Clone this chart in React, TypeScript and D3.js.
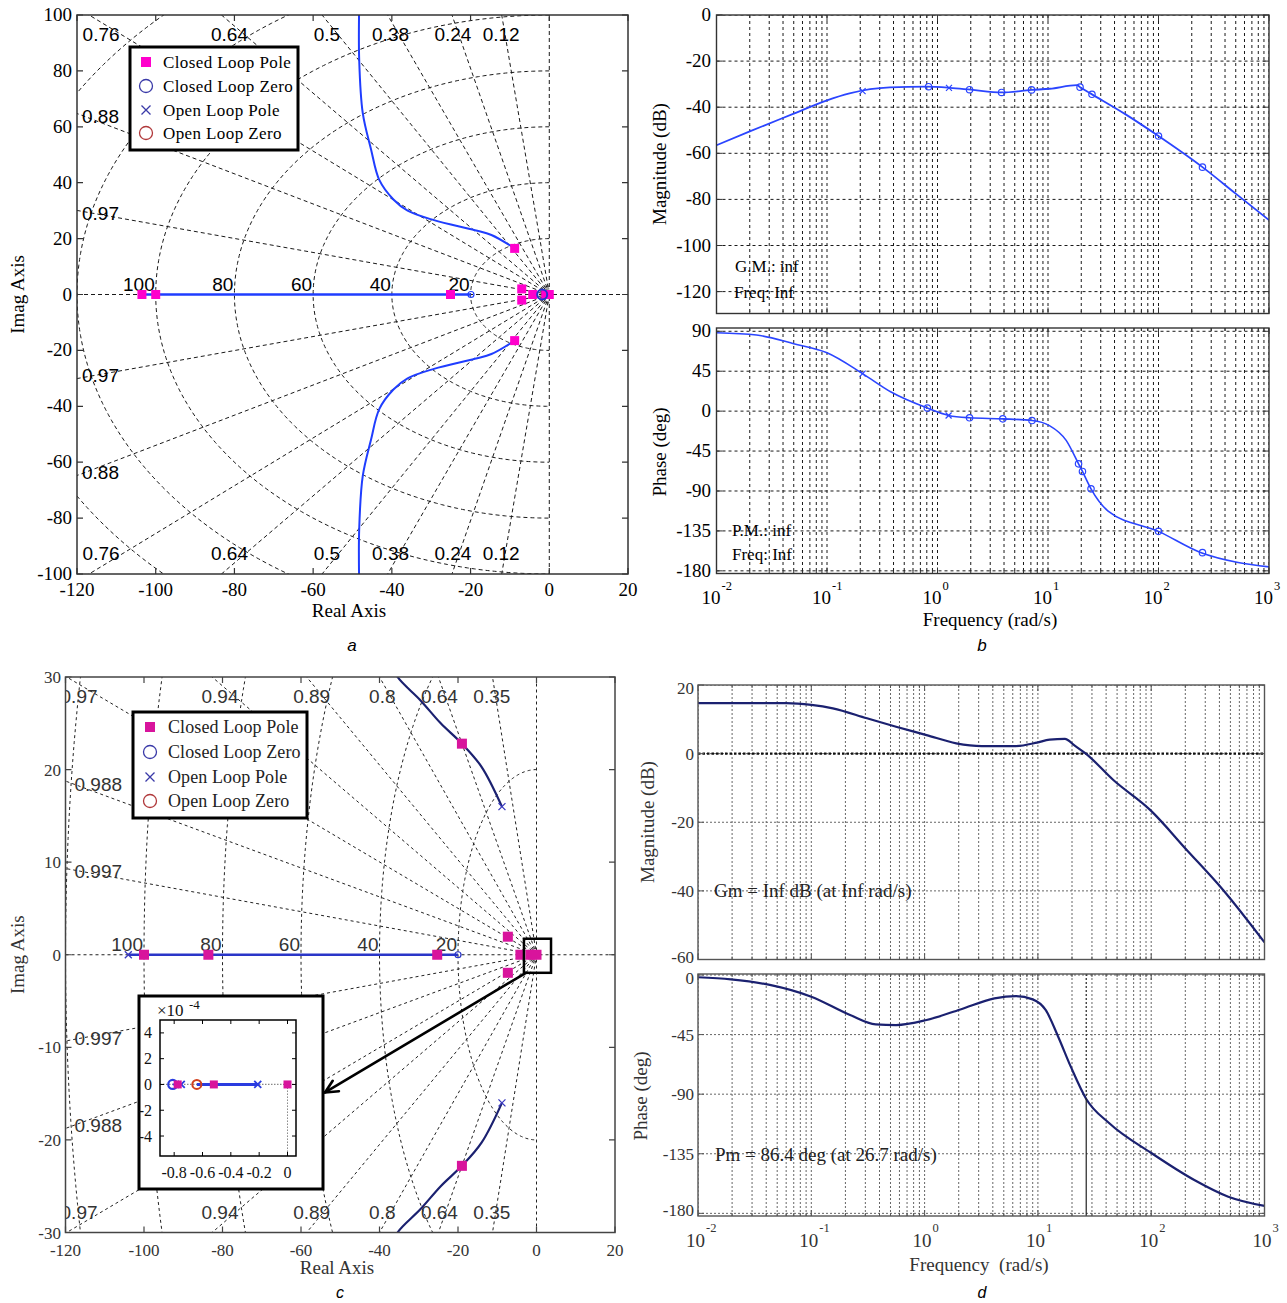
import React from 'react';
import * as d3 from 'd3';

type Pt = [number, number];

const SERIF = '"Liberation Serif","Times New Roman",Times,serif';
const SANS = '"Liberation Sans",Arial,Helvetica,sans-serif';

/* ---------------- (a) root locus ---------------- */
const aXTicks = [-120, -100, -80, -60, -40, -20, 0, 20];
const aYTicks = [-100, -80, -60, -40, -20, 0, 20, 40, 60, 80, 100];
const aZetas = [0.12, 0.24, 0.38, 0.5, 0.64, 0.76, 0.88, 0.97];
const aWn = [1, 2, 3, 20, 40, 60, 80, 100, 120, 140];
const aWnLabels = [100, 80, 60, 40, 20];
const aLocusUpper: Pt[] = [[-48.3, 104], [-48.3, 84], [-47.4, 65], [-45.3, 52], [-43.2, 41], [-39.6, 34], [-36, 30], [-29.3, 26.6], [-18.9, 23], [-14.7, 21.3], [-8.8, 16.5]];
const aLocusLower: Pt[] = [[-48.3, -104], [-48.3, -84], [-47.4, -65], [-45.3, -52], [-43.2, -41], [-39.6, -34], [-36, -30], [-29.3, -26.6], [-18.9, -23], [-14.7, -21.3], [-8.8, -16.5]];
const aRealLocus: Pt[] = [[-103.5, 0], [-19.9, 0]];
const aClosedPoles: Pt[] = [[-103.5, 0], [-100, 0], [-25.1, 0], [-8.8, 16.5], [-8.8, -16.5], [-7, 2], [-7, -2], [-4.2, 0], [-0.9, 0], [0, 0]];
const aClosedZerosSmall: Pt[] = [[-19.9, 0]];
const aClosedZerosBig: Pt[] = [[-1.8, 0]];

/* ---------------- (b) Bode ---------------- */
const bMagTicks = [-120, -100, -80, -60, -40, -20, 0];
const bPhaseTicks = [-180, -135, -90, -45, 0, 45, 90];
const bMag: Pt[] = [[0.01, -56.5], [0.02, -50.5], [0.05, -42.8], [0.1, -37], [0.16, -34], [0.37, -31.4], [0.8, -31.1], [1.3, -31.6], [2, -32.4], [3.8, -33.6], [7.1, -32.5], [10.4, -32], [18.2, -30.4], [19.5, -31.3], [24.2, -34], [50, -43], [100, -52.5], [250, -66], [500, -77.5], [1000, -89]];
const bPhase: Pt[] = [[0.01, 88.4], [0.023, 85.8], [0.05, 76], [0.1, 65.8], [0.21, 42.3], [0.38, 21.5], [0.81, 3.4], [1.26, -4.9], [1.95, -7.5], [3.9, -8.7], [7.16, -10.6], [10.3, -16.3], [14.6, -33], [18.9, -59.4], [20.5, -68], [24.5, -87.6], [35, -112.6], [100, -135.5], [240, -159.3], [525, -170.6], [1000, -175.5]];
const bMagCircles: Pt[] = [[0.83, -31.1], [1.95, -32.4], [3.8, -33.6], [7.1, -32.5], [19.5, -31.3], [25, -34.4], [100, -52.5], [250, -66]];
const bMagCrosses: Pt[] = [[0.21, -33], [1.27, -31.6]];
const bPhaseCircles: Pt[] = [[0.81, 3.4], [1.95, -7.5], [3.9, -8.7], [7.16, -10.6], [18.9, -59.4], [20.5, -68], [24.5, -87.6], [100, -135.5], [250, -159.5]];
const bPhaseCrosses: Pt[] = [[0.21, 42.3], [1.26, -4.9]];

/* ---------------- (c) root locus ---------------- */
const cXTicks = [-120, -100, -80, -60, -40, -20, 0, 20];
const cYTicks = [-30, -20, -10, 0, 10, 20, 30];
const cZetas = [0.35, 0.64, 0.8, 0.89, 0.94, 0.97, 0.988, 0.997];
const cWn = [20, 40, 60, 80, 100, 120];
const cWnLabels = [100, 80, 60, 40, 20];
const cLocusUpper: Pt[] = [[-37, 31.5], [-35.4, 30], [-29.6, 27.5], [-24.4, 25], [-19, 22.8], [-14, 20.3], [-8.8, 16]];
const cLocusLower: Pt[] = [[-37, -31.5], [-35.4, -30], [-29.6, -27.5], [-24.4, -25], [-19, -22.8], [-14, -20.3], [-8.8, -16]];
const cRealLocus: Pt[] = [[-104, 0], [-20, 0]];
const cClosedPoles: Pt[] = [[-100, 0], [-83.6, 0], [-25.3, 0], [-19, 22.8], [-19, -22.8], [-7.3, 1.95], [-7.3, -1.95], [-4.1, 0], [-1.5, 0], [0, 0]];
const cClosedZeros: Pt[] = [[-20, 0]];
const cOpenPoles: Pt[] = [[-104, 0], [-8.8, 16], [-8.8, -16]];
const cZoomBox: Pt[] = [[-3.2, -1.95], [3.7, 1.73]];

/* inset of (c) */
const iXTicks = [-0.8, -0.6, -0.4, -0.2, 0];
const iYTicks = [-4, -2, 0, 2, 4];
const iLocus: Pt[] = [[-0.64, 0], [-0.21, 0]];
const iClosedPoles: Pt[] = [[-0.775, 0], [-0.52, 0], [0, 0]];
const iClosedZeros: Pt[] = [[-0.81, 0]];
const iOpenPoles: Pt[] = [[-0.75, 0], [-0.21, 0]];
const iOpenZeros: Pt[] = [[-0.64, 0]];

/* ---------------- (d) Bode ---------------- */
const dMagTicks = [-60, -40, -20, 0, 20];
const dPhaseTicks = [-180, -135, -90, -45, 0];
const dMag: Pt[] = [[0.01, 14.7], [0.06, 14.7], [0.1, 14.2], [0.155, 13.2], [0.31, 10.3], [0.56, 7.85], [1.04, 5.4], [1.9, 3], [3.2, 2.2], [6.4, 2.2], [9.8, 3.2], [12.7, 4.1], [17.3, 4.3], [21, 2.4], [26.5, 0], [46.3, -7.7], [97.8, -16.4], [205, -28], [433, -39.8], [1000, -55]];
const dPhase: Pt[] = [[0.01, -1.7], [0.0195, -3.3], [0.043, -7.5], [0.1, -16.4], [0.22, -30.2], [0.37, -37.3], [0.56, -37.8], [1.04, -34], [2.07, -26], [4.14, -17.6], [6.4, -15.9], [9, -18.4], [11.7, -26.4], [15.1, -46.6], [19.5, -69.2], [26.7, -93.6], [42.7, -112], [101, -134.6], [240, -154.8], [479, -167.4], [1000, -174.4]];
const dPm: Pt = [26.7, -93.6];

const decades = [0.01, 0.1, 1, 10, 100, 1000];
const decadeExp = ['-2', '-1', '0', '1', '2', '3'];
const legendLabels = ['Closed Loop Pole', 'Closed Loop Zero', 'Open Loop Pole', 'Open Loop Zero'];

const logGrid = d3.range(-2, 3).flatMap(e => d3.range(1, 10).map(m => m * Math.pow(10, e))).concat([1000]);

type Lin = d3.ScaleLinear<number, number>;

function sq(k: string, x: number, y: number, s: number, fill: string) {
  return <rect key={k} x={x - s / 2} y={y - s / 2} width={s} height={s} fill={fill} />;
}
function ring(k: string, x: number, y: number, r: number, stroke: string, sw: number) {
  return <circle key={k} cx={x} cy={y} r={r} fill="none" stroke={stroke} strokeWidth={sw} />;
}
function cross(k: string, x: number, y: number, s: number, stroke: string, sw: number) {
  return <path key={k} d={`M${x - s},${y - s}L${x + s},${y + s}M${x - s},${y + s}L${x + s},${y - s}`} stroke={stroke} strokeWidth={sw} fill="none" />;
}

function sgrid(x: Lin, y: Lin, zetas: number[], wns: number[], stroke: string, dash: string, sw: number) {
  const R = 3000;
  const rays = zetas.flatMap(z => {
    const th = Math.acos(z);
    return [1, -1].map(s => `M${x(0)},${y(0)}L${x(-R * Math.cos(th))},${y(s * R * Math.sin(th))}`);
  });
  const arcs = wns.map(w =>
    d3.line()(d3.range(90, 271, 1).map(deg => {
      const r = (deg * Math.PI) / 180;
      return [x(w * Math.cos(r)), y(w * Math.sin(r))] as [number, number];
    }))
  );
  return (
    <g fill="none" stroke={stroke} strokeWidth={sw} strokeDasharray={dash}>
      {rays.map((d, i) => <path key={'r' + i} d={d} />)}
      {arcs.map((d, i) => <path key={'c' + i} d={d || ''} />)}
      <line x1={x.range()[0]} x2={x.range()[1]} y1={y(0)} y2={y(0)} />
      <line x1={x(0)} x2={x(0)} y1={y.range()[0]} y2={y.range()[1]} />
    </g>
  );
}

function zetaLabels(x: Lin, y: Lin, zetas: number[], fs: number, color: string, leftPad: number) {
  const [x0] = x.domain();
  const [, y1] = y.domain();
  const [L] = x.range();
  const [B, T] = y.range();
  const out: React.ReactNode[] = [];
  zetas.forEach(z => {
    const th = Math.acos(z);
    const t = Math.tan(th);
    const xTop = -y1 / t;
    if (xTop >= x0) {
      const cxp = x(xTop) - 0.12 * xTop - 2;
      out.push(<text key={'t' + z} x={cxp} y={T + 26} textAnchor="middle">{String(z)}</text>);
      out.push(<text key={'b' + z} x={cxp} y={B - 14} textAnchor="middle">{String(z)}</text>);
    } else {
      const yl = -x0 * t;
      out.push(<text key={'l' + z} x={L + leftPad} y={y(yl) + 9.5}>{String(z)}</text>);
      out.push(<text key={'m' + z} x={L + leftPad} y={y(-yl) + 3.5}>{String(z)}</text>);
    }
  });
  return <g fontFamily={SANS} fontSize={fs} fill={color}>{out}</g>;
}

function rlFrame(x: Lin, y: Lin, xt: number[], yt: number[], frame: string, color: string, fs: number, yLabRight: number, xLabBase: number) {
  const [L, R] = x.range();
  const [B, T] = y.range();
  return (
    <g>
      <rect x={L} y={T} width={R - L} height={B - T} fill="none" stroke={frame} strokeWidth={1.5} />
      <g stroke={frame} strokeWidth={1.2}>
        {xt.map(v => <path key={'x' + v} d={`M${x(v)},${B}V${B - 6}M${x(v)},${T}V${T + 6}`} />)}
        {yt.map(v => <path key={'y' + v} d={`M${L},${y(v)}H${L + 6}M${R},${y(v)}H${R - 6}`} />)}
      </g>
      <g fontFamily={SERIF} fontSize={fs} fill={color}>
        {xt.map(v => <text key={'xl' + v} x={x(v)} y={xLabBase} textAnchor="middle">{String(v)}</text>)}
        {yt.map(v => <text key={'yl' + v} x={yLabRight} y={y(v) + 6} textAnchor="end">{String(v)}</text>)}
      </g>
    </g>
  );
}

function legend(L: number, T: number, W: number, H: number, rows: number[], symX: number, textX: number, fs: number, ls: number, pole: string, color: string) {
  return (
    <g>
      <rect x={L} y={T} width={W} height={H} fill="#fff" stroke="#000" strokeWidth={3} />
      {sq('lg0', symX, rows[0], 10, pole)}
      {ring('lg1', symX, rows[1], 6.5, '#3a3aa8', 1.3)}
      {cross('lg2', symX, rows[2], 4.5, '#3a3aa8', 1.3)}
      {ring('lg3', symX, rows[3], 6.5, '#b0383a', 1.3)}
      <g fontFamily={SERIF} fontSize={fs} fill={color} letterSpacing={ls}>
        {legendLabels.map((s, i) => <text key={s} x={textX} y={rows[i] + 5.5}>{s}</text>)}
      </g>
    </g>
  );
}

type BodeCfg = {
  id: string; L: number; R: number; T: number; B: number;
  yDom: [number, number]; yTicks: number[]; data: Pt[];
  line: string; lw: number; grid: string; dash: string; gw: number;
  frame: string; color: string; fs: number; labelRight: number;
  edgeNudge?: number;
  xlab?: { base: number; expBase: number; dx: number };
  boldZero?: boolean;
  extra?: (x: d3.ScaleLogarithmic<number, number>, y: Lin) => React.ReactNode;
};

function bode(c: BodeCfg) {
  const x = d3.scaleLog().domain([0.01, 1000]).range([c.L, c.R]);
  const y = d3.scaleLinear().domain(c.yDom).range([c.B, c.T]);
  const path = d3.line<Pt>().x(d => x(d[0])).y(d => y(d[1])).curve(d3.curveMonotoneX)(c.data) || '';
  const nudge = c.edgeNudge || 0;
  const yLabY = (v: number) => {
    const py = y(v);
    if (Math.abs(py - c.B) < 4) return py + 6 - nudge;
    if (Math.abs(py - c.T) < 4) return py + 6 + nudge;
    return py + 6;
  };
  return (
    <g>
      <defs>
        <clipPath id={c.id}><rect x={c.L} y={c.T} width={c.R - c.L} height={c.B - c.T} /></clipPath>
      </defs>
      <rect x={c.L} y={c.T} width={c.R - c.L} height={c.B - c.T} fill="#fff" />
      <g clipPath={`url(#${c.id})`}>
        <g stroke={c.grid} strokeWidth={c.gw} strokeDasharray={c.dash}>
          {logGrid.map((f, i) => <line key={'g' + i} x1={x(f)} x2={x(f)} y1={c.T} y2={c.B} />)}
          {c.yTicks.map(v => <line key={'h' + v} x1={c.L} x2={c.R} y1={y(v)} y2={y(v)} />)}
        </g>
        {c.boldZero && <line x1={c.L} x2={c.R} y1={y(0)} y2={y(0)} stroke="#111" strokeWidth={2.2} strokeDasharray="2.5,2" />}
        <path d={path} fill="none" stroke={c.line} strokeWidth={c.lw} strokeLinejoin="round" />
        {c.extra && c.extra(x, y)}
      </g>
      <rect x={c.L} y={c.T} width={c.R - c.L} height={c.B - c.T} fill="none" stroke={c.frame} strokeWidth={1.4} />
      <g stroke={c.frame} strokeWidth={1}>
        {logGrid.map((f, i) => {
          const major = decades.includes(f);
          const len = major ? 6 : 3;
          return <path key={'t' + i} d={`M${x(f)},${c.B}V${c.B - len}M${x(f)},${c.T}V${c.T + len}`} />;
        })}
        {c.yTicks.map(v => <path key={'yt' + v} d={`M${c.L},${y(v)}H${c.L + 6}M${c.R},${y(v)}H${c.R - 6}`} />)}
      </g>
      <g fontFamily={SERIF} fontSize={c.fs} fill={c.color}>
        {c.yTicks.map(v => <text key={'yl' + v} x={c.labelRight} y={yLabY(v)} textAnchor="end">{String(v)}</text>)}
        {c.xlab && decades.map((f, i) => (
          <g key={'xl' + f}>
            <text x={x(f) + c.xlab!.dx} y={c.xlab!.base} textAnchor="end" fontSize={19}>10</text>
            <text x={x(f) + c.xlab!.dx + 1} y={c.xlab!.expBase} fontSize={12.5}>{decadeExp[i]}</text>
          </g>
        ))}
      </g>
    </g>
  );
}

export default function App() {
  const A = { L: 77, R: 628, T: 15, B: 574 };
  const ax = d3.scaleLinear().domain([-120, 20]).range([A.L, A.R]);
  const ay = d3.scaleLinear().domain([-100, 100]).range([A.B, A.T]);
  const C = { L: 65.5, R: 615, T: 677, B: 1232.5 };
  const cx = d3.scaleLinear().domain([-120, 20]).range([C.L, C.R]);
  const cy = d3.scaleLinear().domain([-30, 30]).range([C.B, C.T]);
  const I = { L: 160, R: 296, T: 1020, B: 1156 };
  const ix = d3.scaleLinear().domain([-0.9, 0.06]).range([I.L, I.R]);
  const iy = d3.scaleLinear().domain([-5.55, 5]).range([I.B, I.T]);

  const lineA = d3.line<Pt>().x(d => ax(d[0])).y(d => ay(d[1])).curve(d3.curveCatmullRom);
  const lineC = d3.line<Pt>().x(d => cx(d[0])).y(d => cy(d[1])).curve(d3.curveCatmullRom);
  const lineI = d3.line<Pt>().x(d => ix(d[0])).y(d => iy(d[1]));

  const MAG_A = '#ff00cc';
  const MAG_C = '#d8149c';
  const BLUE_A = '#1f3dff';
  const NAVY = '#1b2170';

  // arrow geometry (from zoom box to inset)
  const arrowStart: Pt = [cx(cZoomBox[0][0]) + 2, cy(cZoomBox[0][1])];
  const arrowEnd: Pt = [I.R + 29, iy(0) + 8];
  const ang = Math.atan2(arrowEnd[1] - arrowStart[1], arrowEnd[0] - arrowStart[0]);
  const ah = 14;
  const ah1: Pt = [arrowEnd[0] - ah * Math.cos(ang - 0.45), arrowEnd[1] - ah * Math.sin(ang - 0.45)];
  const ah2: Pt = [arrowEnd[0] - ah * Math.cos(ang + 0.45), arrowEnd[1] - ah * Math.sin(ang + 0.45)];

  return (
    <div style={{ position: 'absolute', left: 0, top: 0 }}>
      <svg width={1287} height={1303} viewBox="0 0 1287 1303" style={{ display: 'block', background: '#fff' }}>
        <rect x={0} y={0} width={1287} height={1303} fill="#fff" />

        {/* ===================== (a) ===================== */}
        <defs>
          <clipPath id="clipA"><rect x={A.L} y={A.T} width={A.R - A.L} height={A.B - A.T} /></clipPath>
          <clipPath id="clipC"><rect x={C.L} y={C.T} width={C.R - C.L} height={C.B - C.T} /></clipPath>
          <clipPath id="clipI"><rect x={I.L} y={I.T} width={I.R - I.L} height={I.B - I.T} /></clipPath>
        </defs>
        <g clipPath="url(#clipA)">
          {sgrid(ax, ay, aZetas, aWn, '#1a1a1a', '4,3', 1)}
          {zetaLabels(ax, ay, aZetas, 19, '#000', 5)}
          <g fontFamily={SANS} fontSize={19} fill="#000">
            {aWnLabels.map(w => <text key={'wa' + w} x={ax(-w) - 1} y={ay(0) - 4} textAnchor="end">{String(w)}</text>)}
          </g>
          <path d={lineA(aLocusUpper) || ''} fill="none" stroke={BLUE_A} strokeWidth={2} />
          <path d={lineA(aLocusLower) || ''} fill="none" stroke={BLUE_A} strokeWidth={2} />
          <path d={d3.line<Pt>().x(d => ax(d[0])).y(d => ay(d[1]))(aRealLocus) || ''} stroke={BLUE_A} strokeWidth={2.5} fill="none" />
          {aClosedZerosSmall.map((p, i) => ring('azs' + i, ax(p[0]), ay(p[1]), 3, BLUE_A, 1.2))}
          {aClosedPoles.map((p, i) => sq('acp' + i, ax(p[0]), ay(p[1]), 9, MAG_A))}
          {aClosedZerosBig.map((p, i) => ring('azb' + i, ax(p[0]), ay(p[1]), 5, '#2233cc', 2))}
        </g>
        {rlFrame(ax, ay, aXTicks, aYTicks, '#333', '#000', 19, 72, 596)}
        <text x={349} y={617} fontFamily={SERIF} fontSize={19} textAnchor="middle">Real Axis</text>
        <text transform={`translate(24,${ay(0)}) rotate(-90)`} fontFamily={SERIF} fontSize={19} textAnchor="middle">Imag Axis</text>
        {legend(130, 47, 168, 103, [62, 86, 110, 133], 146, 163, 17, 0.4, MAG_A, '#000')}
        <text x={352} y={651} fontFamily={SANS} fontStyle="italic" fontSize={17} textAnchor="middle">a</text>

        {/* ===================== (b) ===================== */}
        {bode({
          id: 'clipBm', L: 716.5, R: 1269, T: 15, B: 313.5, yDom: [-129.5, 0], yTicks: bMagTicks, data: bMag,
          line: '#2b45ff', lw: 1.8, grid: '#1a1a1a', dash: '3,3', gw: 1, frame: '#333', color: '#000', fs: 19, labelRight: 711,
          extra: (x, y) => (
            <g>
              {bMagCircles.map((p, i) => ring('bmc' + i, x(p[0]), y(p[1]), 3.2, '#2b45ff', 1.2))}
              {bMagCrosses.map((p, i) => cross('bmx' + i, x(p[0]), y(p[1]), 3, '#2b45ff', 1.2))}
            </g>
          ),
        })}
        <g fontFamily={SERIF} fontSize={17} fill="#000">
          <text x={735} y={272}>G.M.: inf</text>
          <text x={734} y={298}>Freq: Inf</text>
        </g>
        {bode({
          id: 'clipBp', L: 716.5, R: 1269, T: 328, B: 573.5, yDom: [-183, 93.7], yTicks: bPhaseTicks, data: bPhase,
          line: '#2b45ff', lw: 1.6, grid: '#1a1a1a', dash: '3,3', gw: 1, frame: '#333', color: '#000', fs: 19, labelRight: 711,
          xlab: { base: 603.5, expBase: 590, dx: 4 },
          extra: (x, y) => (
            <g>
              {bPhaseCircles.map((p, i) => ring('bpc' + i, x(p[0]), y(p[1]), 3.2, '#2b45ff', 1.2))}
              {bPhaseCrosses.map((p, i) => cross('bpx' + i, x(p[0]), y(p[1]), 3, '#2b45ff', 1.2))}
            </g>
          ),
        })}
        <g fontFamily={SERIF} fontSize={17} fill="#000">
          <text x={732} y={536}>P.M.: inf</text>
          <text x={732} y={560}>Freq: Inf</text>
        </g>
        <text transform="translate(666,164) rotate(-90)" fontFamily={SERIF} fontSize={19} textAnchor="middle">Magnitude (dB)</text>
        <text transform="translate(666,452) rotate(-90)" fontFamily={SERIF} fontSize={19} textAnchor="middle">Phase (deg)</text>
        <text x={990} y={626} fontFamily={SERIF} fontSize={19} textAnchor="middle">Frequency (rad/s)</text>
        <text x={982} y={651} fontFamily={SANS} fontStyle="italic" fontSize={17} textAnchor="middle">b</text>

        {/* ===================== (c) ===================== */}
        <g clipPath="url(#clipC)">
          {sgrid(cx, cy, cZetas, cWn, '#222', '3,3', 1)}
          {zetaLabels(cx, cy, cZetas, 19, '#333', 9)}
          <g fontFamily={SANS} fontSize={19} fill="#333">
            {cWnLabels.map(w => <text key={'wc' + w} x={cx(-w) - 1} y={cy(0) - 4} textAnchor="end">{String(w)}</text>)}
          </g>
          <path d={lineC(cLocusUpper) || ''} fill="none" stroke={NAVY} strokeWidth={2.2} />
          <path d={lineC(cLocusLower) || ''} fill="none" stroke={NAVY} strokeWidth={2.2} />
          <path d={d3.line<Pt>().x(d => cx(d[0])).y(d => cy(d[1]))(cRealLocus) || ''} stroke="#2a36c8" strokeWidth={2.6} fill="none" />
          {cOpenPoles.map((p, i) => cross('cop' + i, cx(p[0]), cy(p[1]), 3.5, '#3a3ac0', 1.3))}
          {cClosedZeros.map((p, i) => ring('ccz' + i, cx(p[0]), cy(p[1]), 3, '#2a36c8', 1.2))}
          {cClosedPoles.map((p, i) => sq('ccp' + i, cx(p[0]), cy(p[1]), 10, MAG_C))}
          <rect x={cx(cZoomBox[0][0])} y={cy(cZoomBox[1][1])} width={cx(cZoomBox[1][0]) - cx(cZoomBox[0][0])} height={cy(cZoomBox[0][1]) - cy(cZoomBox[1][1])} fill="none" stroke="#000" strokeWidth={2.5} />
        </g>
        {rlFrame(cx, cy, cXTicks, cYTicks, '#444', '#333', 17, 61, 1256)}
        {legend(133, 712, 174, 106, [727, 752, 777, 801], 150, 168, 18, 0.1, MAG_C, '#222')}
        {/* inset */}
        <rect x={139} y={996} width={184} height={193} fill="#fff" stroke="#000" strokeWidth={3} />
        <g clipPath="url(#clipI)">
          <line x1={I.L} x2={I.R} y1={iy(0)} y2={iy(0)} stroke="#888" strokeWidth={1.2} strokeDasharray="1.5,1.5" />
          <line x1={ix(0)} x2={ix(0)} y1={iy(0)} y2={I.B} stroke="#888" strokeWidth={1} strokeDasharray="1.5,1.5" />
          <path d={lineI([[iClosedZeros[0][0], 0], iOpenPoles[0]]) || ''} stroke="#2a3ce0" strokeWidth={2} fill="none" />
          <path d={lineI(iLocus) || ''} stroke="#2a3ce0" strokeWidth={3} fill="none" />
          {iClosedZeros.map((p, i) => ring('icz' + i, ix(p[0]), iy(p[1]), 4.5, '#2a3ce0', 2.2))}
          {iOpenPoles.map((p, i) => cross('iop' + i, ix(p[0]), iy(p[1]), 3.5, '#2a3ce0', 1.8))}
          {iOpenZeros.map((p, i) => ring('ioz' + i, ix(p[0]), iy(p[1]), 4.5, '#d2401e', 2))}
          {iClosedPoles.map((p, i) => sq('icp' + i, ix(p[0]), iy(p[1]), 8, MAG_C))}
        </g>
        <rect x={I.L} y={I.T} width={I.R - I.L} height={I.B - I.T} fill="none" stroke="#000" strokeWidth={1.5} />
        <g stroke="#000" strokeWidth={1}>
          {iXTicks.map(v => <path key={'ixt' + v} d={`M${ix(v)},${I.B}V${I.B - 4}M${ix(v)},${I.T}V${I.T + 4}`} />)}
          {iYTicks.map(v => <path key={'iyt' + v} d={`M${I.L},${iy(v)}H${I.L + 4}M${I.R},${iy(v)}H${I.R - 4}`} />)}
        </g>
        <g fontFamily={SERIF} fontSize={16} fill="#111">
          {iXTicks.map(v => <text key={'ixl' + v} x={ix(v)} y={1178} textAnchor="middle">{String(v)}</text>)}
          {iYTicks.map(v => <text key={'iyl' + v} x={152} y={iy(v) + 5.5} textAnchor="end">{String(v)}</text>)}
          <text x={157} y={1016} fontSize={17}>×10</text>
          <text x={189} y={1009} fontSize={13}>-4</text>
        </g>
        {/* arrow */}
        <g stroke="#000" strokeWidth={2.6} fill="none" strokeLinecap="round">
          <line x1={arrowStart[0]} y1={arrowStart[1]} x2={arrowEnd[0]} y2={arrowEnd[1]} />
          <path d={`M${ah1[0]},${ah1[1]}L${arrowEnd[0]},${arrowEnd[1]}L${ah2[0]},${ah2[1]}`} />
        </g>
        <text x={337} y={1274} fontFamily={SERIF} fontSize={19} fill="#333" textAnchor="middle">Real Axis</text>
        <text transform={`translate(24,${cy(0)}) rotate(-90)`} fontFamily={SERIF} fontSize={19} fill="#333" textAnchor="middle">Imag Axis</text>
        <text x={340} y={1298} fontFamily={SANS} fontStyle="italic" fontSize={16} textAnchor="middle">c</text>

        {/* ===================== (d) ===================== */}
        {bode({
          id: 'clipDm', L: 698, R: 1264.5, T: 685, B: 959.5, yDom: [-60, 20], yTicks: dMagTicks, data: dMag,
          line: NAVY, lw: 2.2, grid: '#666', dash: '2,2', gw: 1, frame: '#555', color: '#333', fs: 17, labelRight: 694, boldZero: true, edgeNudge: 3,
        })}
        <text x={714} y={897} fontFamily={SERIF} fontSize={19} fill="#222">Gm = Inf dB (at Inf rad/s)</text>
        {bode({
          id: 'clipDp', L: 698, R: 1264.5, T: 974, B: 1216, yDom: [-182, 0.75], yTicks: dPhaseTicks, data: dPhase,
          line: NAVY, lw: 2.2, grid: '#666', dash: '2,2', gw: 1, frame: '#555', color: '#333', fs: 17, labelRight: 694, edgeNudge: 3,
          xlab: { base: 1246.5, expBase: 1232, dx: 7 },
          extra: (x, y) => (
            <g>
              <line x1={x(dPm[0])} x2={x(dPm[0])} y1={974} y2={y(dPm[1])} stroke="#222" strokeWidth={1.2} strokeDasharray="2,2" />
              <line x1={x(dPm[0])} x2={x(dPm[0])} y1={y(dPm[1])} y2={y(-182)} stroke="#222" strokeWidth={1.2} />
            </g>
          ),
        })}
        <text x={715} y={1161} fontFamily={SERIF} fontSize={19} fill="#222">Pm = 86.4 deg (at 26.7 rad/s)</text>
        <text transform="translate(654,822) rotate(-90)" fontFamily={SERIF} fontSize={19} fill="#333" textAnchor="middle">Magnitude (dB)</text>
        <text transform="translate(647,1096) rotate(-90)" fontFamily={SERIF} fontSize={19} fill="#333" textAnchor="middle">Phase (deg)</text>
        <text x={979} y={1271} fontFamily={SERIF} fontSize={19} fill="#333" textAnchor="middle" xmlSpace="preserve">Frequency  (rad/s)</text>
        <text x={982} y={1298} fontFamily={SANS} fontStyle="italic" fontSize={16} textAnchor="middle">d</text>
      </svg>
    </div>
  );
}
